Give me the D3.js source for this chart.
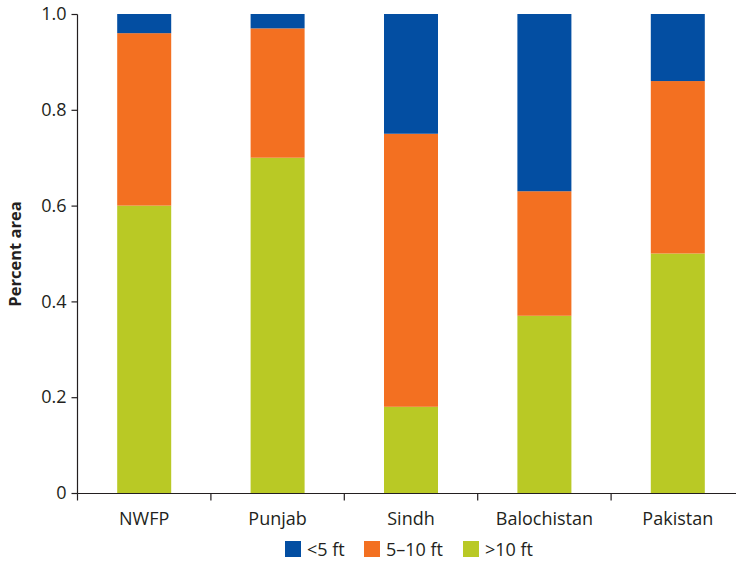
<!DOCTYPE html>
<html><head><meta charset="utf-8">
<script src="https://cdn.jsdelivr.net/npm/d3@7"></script>
<style>body{margin:0;background:#fff}svg{display:block}text{font-family:"Open Sans","Noto Sans",sans-serif;fill:#231f20}</style>
</head><body><svg id="c" width="736" height="562"></svg>
<script>
const categories = ["NWFP","Punjab","Sindh","Balochistan","Pakistan"];
const seriesNames = ["<5 ft","5–10 ft",">10 ft"];
const over10 = [0.60,0.70,0.18,0.37,0.50];
const ft5to10 = [0.36,0.27,0.57,0.26,0.36];
const under5 = [0.04,0.03,0.25,0.37,0.14];
const yTicks = [0,0.2,0.4,0.6,0.8,1.0];
const colors = {"<5 ft":"#034ea2","5–10 ft":"#f37021",">10 ft":"#b9c925"};

const svg = d3.select("#c");
const x = d3.scaleBand().domain(categories).range([77.5,744.5]).paddingInner(0).paddingOuter(0);
const y = d3.scaleLinear().domain([0,1]).range([493,14]);
const rows = categories.map((c,i)=>({cat:c,">10 ft":over10[i],"5–10 ft":ft5to10[i],"<5 ft":under5[i]}));
const stack = d3.stack().keys([">10 ft","5–10 ft","<5 ft"])(rows);
const bw = 54;
svg.append("g").selectAll("g").data(stack).join("g").attr("fill",d=>colors[d.key])
  .selectAll("rect").data(d=>d).join("rect")
  .attr("x",d=>x(d.data.cat)+x.bandwidth()/2-bw/2).attr("width",bw)
  .attr("y",d=>y(d[1])).attr("height",d=>y(d[0])-y(d[1]));

// y axis
const ya = svg.append("g").attr("transform","translate(77.5,0)")
  .call(d3.axisLeft(y).tickValues(yTicks).tickFormat(d=>d===0?"0":d3.format(".1f")(d)).tickSize(6).tickPadding(5));
ya.select(".domain").attr("d","M0,14.5V493.5");
ya.selectAll("text").style("font-size","18px").attr("fill","#231f20");
ya.selectAll("line,path").attr("stroke","#231f20").attr("stroke-width",1.2);

// x axis
const xa = svg.append("g").attr("transform","translate(0,493.5)");
xa.append("line").attr("x1",77.5).attr("x2",736).attr("stroke","#231f20").attr("stroke-width",1.2);
xa.selectAll("line.t").data(categories).join("line").attr("class","t")
  .attr("x1",d=>x(d)).attr("x2",d=>x(d)).attr("y1",0).attr("y2",7).attr("stroke","#231f20").attr("stroke-width",1.2);
xa.selectAll("text").data(categories).join("text")
  .attr("x",d=>x(d)+x.bandwidth()/2).attr("y",31).attr("text-anchor","middle")
  .style("font-size","18px").text(d=>d);

svg.append("text").attr("transform","translate(21,254) rotate(-90)").attr("text-anchor","middle")
  .style("font-size","16.5px").style("font-weight","bold").text("Percent area");

// legend
const lx = [285,364,463];
const lg = svg.append("g").selectAll("g").data(seriesNames).join("g")
  .attr("transform",(d,i)=>`translate(${lx[i]},541)`);
lg.append("rect").attr("width",16).attr("height",16).attr("fill",d=>colors[d]);
lg.append("text").attr("x",22).attr("y",15).style("font-size","18px").text(d=>d);
</script></body></html>
